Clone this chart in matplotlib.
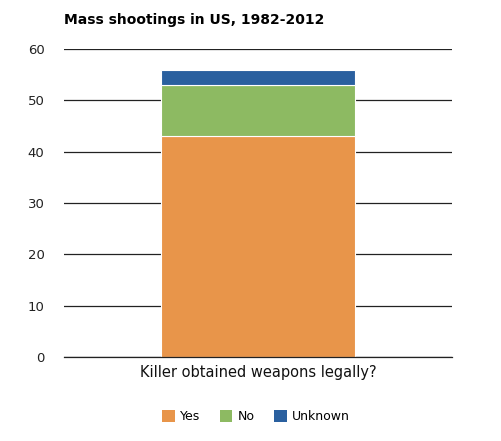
import matplotlib
matplotlib.use('Agg')
import matplotlib.pyplot as plt
from matplotlib.patches import Patch

# data
categories = ['Killer obtained weapons legally?']
series_names = ['Yes', 'No', 'Unknown']
yes_vals = [43]
no_vals = [10]
unknown_vals = [3]
colors = ['#E8954A', '#8DBA62', '#2A609F']

fig = plt.figure(figsize=(5.02, 4.41), dpi=100)
ax = fig.add_axes([0.1275, 0.1905, 0.7725, 0.6984])

x = [0]
bottom = [0]
for name, vals, c in zip(series_names, [yes_vals, no_vals, unknown_vals], colors):
    ax.bar(x, vals, width=1.0, bottom=bottom, color=c, edgecolor='white',
           linewidth=0.8, zorder=3)
    bottom = [b + v for b, v in zip(bottom, vals)]

ax.set_xlim(-1, 1)
ax.set_ylim(0, 60)
ax.set_yticks([0, 10, 20, 30, 40, 50, 60])
ax.set_xticks([])
ax.grid(axis='y', color='#222222', linewidth=0.9, zorder=1)
ax.axhline(0, color='#222222', linewidth=0.9, zorder=4, clip_on=False)
for s in ax.spines.values():
    s.set_visible(False)
ax.tick_params(axis='y', length=0, pad=14, labelsize=9.5, labelcolor='#222222')
ax.set_xlabel(categories[0], fontsize=10.5, color='#111111', labelpad=6)

fig.text(0.1275, 0.955, 'Mass shootings in US, 1982-2012', fontsize=10,
         fontweight='bold', ha='left', va='center')

handles = [Patch(facecolor=c, edgecolor='none') for c in colors]
fig.legend(handles, series_names, loc='center', bbox_to_anchor=(0.51, 0.055),
           ncol=3, frameon=False, fontsize=9, handlelength=1.0, handleheight=1.0,
           handletextpad=0.4, columnspacing=1.6)

fig.savefig('out.png', dpi=100)
